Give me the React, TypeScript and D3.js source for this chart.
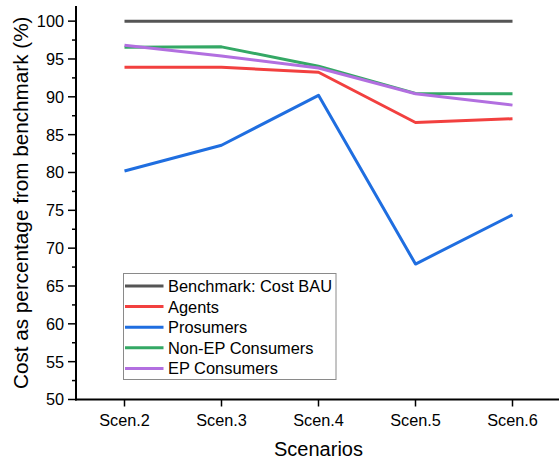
import React from "react";
import * as d3 from "d3";

const scenarios = ["Scen.2", "Scen.3", "Scen.4", "Scen.5", "Scen.6"];
const benchmark = [100, 100, 100, 100, 100];
const agents = [93.9, 93.9, 93.25, 86.6, 87.1];
const prosumers = [80.2, 83.6, 90.2, 67.9, 74.4];
const nonEpConsumers = [96.55, 96.6, 94.05, 90.45, 90.4];
const epConsumers = [96.8, 95.4, 93.8, 90.4, 88.9];
const yTicks = [50, 55, 60, 65, 70, 75, 80, 85, 90, 95, 100];

const series = [
  { name: "Benchmark: Cost BAU", values: benchmark, color: "#555555" },
  { name: "Agents", values: agents, color: "#f2403f" },
  { name: "Prosumers", values: prosumers, color: "#1f6ee0" },
  { name: "Non-EP Consumers", values: nonEpConsumers, color: "#34a865" },
  { name: "EP Consumers", values: epConsumers, color: "#b26fe0" },
];

const W = 559;
const H = 461;
const FONT = "'Liberation Sans', Arial, sans-serif";

export default function App() {
  const left = 76;
  const bottom = 399.5;
  const top = 6;
  const x = d3.scalePoint<string>().domain(scenarios).range([left, 561]).padding(0.5);
  const y = d3.scaleLinear().domain([50, 102]).range([bottom, top]);
  const minorTicks = d3.range(52.5, 102, 5);

  const line = d3
    .line<number>()
    .x((_, i) => x(scenarios[i]) as number)
    .y((d) => y(d));

  const legX = 123.5;
  const legY = 273.5;
  const legW = 212.5;
  const legH = 106;
  const rowH = 20.6;

  return (
    <svg
      width={W}
      height={H}
      style={{ position: "absolute", left: 0, top: 0, background: "#fff" }}
      fontFamily={FONT}
    >
      {/* data lines */}
      {series.map((s) => (
        <path
          key={s.name}
          d={line(s.values) || ""}
          fill="none"
          stroke={s.color}
          strokeWidth={3}
          strokeLinejoin="round"
        />
      ))}

      {/* y axis */}
      <line x1={left} x2={left} y1={top} y2={bottom + 1} stroke="#000" strokeWidth={2} />
      {yTicks.map((t) => (
        <g key={t}>
          <line x1={left - 8} x2={left} y1={y(t)} y2={y(t)} stroke="#000" strokeWidth={1.5} />
          <text
            x={left - 12}
            y={y(t)}
            dy="0.36em"
            textAnchor="end"
            fontSize={16.3}
            fill="#000"
          >
            {t}
          </text>
        </g>
      ))}
      {minorTicks.map((t) => (
        <line key={t} x1={left - 4} x2={left} y1={y(t)} y2={y(t)} stroke="#000" strokeWidth={1.5} />
      ))}

      {/* x axis */}
      <line x1={left - 1} x2={W} y1={bottom} y2={bottom} stroke="#000" strokeWidth={2} />
      {scenarios.map((s) => (
        <g key={s}>
          <line
            x1={x(s)}
            x2={x(s)}
            y1={bottom}
            y2={bottom + 7}
            stroke="#000"
            strokeWidth={1.5}
          />
          <text x={x(s)} y={426} textAnchor="middle" fontSize={16.3} fill="#000">
            {s}
          </text>
        </g>
      ))}

      {/* axis titles */}
      <text x={(left + 561) / 2} y={456} textAnchor="middle" fontSize={20} fill="#000">
        Scenarios
      </text>
      <text
        transform={`translate(28, ${(top + bottom) / 2}) rotate(-90)`}
        textAnchor="middle"
        fontSize={20.7}
        fill="#000"
      >
        Cost as percentage from benchmark (%)
      </text>

      {/* legend */}
      <rect x={legX} y={legY} width={legW} height={legH} fill="#fff" stroke="#8a8a8a" strokeWidth={1} />
      {series.map((s, i) => {
        const cy = legY + 12.5 + i * rowH;
        return (
          <g key={s.name}>
            <line x1={legX + 1.5} x2={legX + 40} y1={cy} y2={cy} stroke={s.color} strokeWidth={3} />
            <text x={legX + 44.5} y={cy} dy="0.36em" fontSize={16.4} fill="#000">
              {s.name}
            </text>
          </g>
        );
      })}
    </svg>
  );
}
